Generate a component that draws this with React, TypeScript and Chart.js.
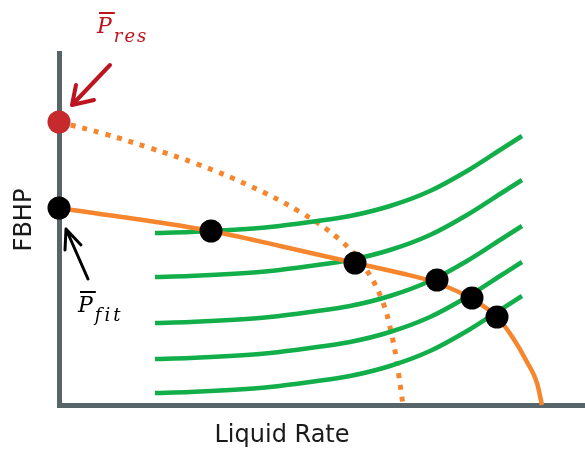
import React, { useEffect, useRef } from 'react';
import { Chart, registerables } from 'chart.js';

Chart.register(...registerables);

// Fitted IPR curve (solid orange)
const fitRate = [0, 152, 221, 296, 341, 378, 413, 438, 454, 468, 478, 483];
const fitFbhp = [197, 174, 159, 142, 132, 122, 106, 88, 67, 43, 22, 0];

// Reservoir-pressure IPR (dotted orange)
const resRate = [0, 46, 91, 138, 191, 241, 281, 306, 323, 333, 339, 344];
const resFbhp = [283, 271, 257, 241, 219, 193, 165, 137, 105, 69, 35, 0];

// Tubing performance curves (green)
const tpcRate = [96, 131, 171, 211, 251, 291, 331, 371, 408, 441, 463];
const tpc1Fbhp = [172, 173, 175, 178, 183, 189, 199, 214, 234, 255, 269];
const tpc2Fbhp = [128, 129, 131, 134, 139, 145, 155, 170, 190, 211, 225];
const tpc3Fbhp = [82, 83, 85, 88, 93, 99, 109, 124, 144, 165, 179];
const tpc4Fbhp = [46, 47, 49, 52, 57, 63, 73, 88, 108, 129, 143];
const tpc5Fbhp = [12, 13, 15, 18, 23, 29, 39, 54, 74, 95, 109];

// Operating points (black) and reservoir pressure point (red)
const opRate = [0, 152, 296, 378, 413, 438];
const opFbhp = [197, 174, 142, 125, 107, 88];
const pResRate = [0];
const pResFbhp = [283];

const xLabel = 'Liquid Rate';
const yLabel = 'FBHP';

const ORANGE = '#F5862E';
const GREEN = '#12AE4A';
const AXIS = '#57646A';
const RED = '#C62A2D';
const DARKRED = '#BE1420';

const pts = (xs: number[], ys: number[]) => xs.map((x, i) => ({ x, y: ys[i] }));

const greenSet = (ys: number[]) => ({
  type: 'line' as const,
  data: pts(tpcRate, ys),
  borderColor: GREEN,
  borderWidth: 4.5,
  pointRadius: 0,
  showLine: true,
  cubicInterpolationMode: 'monotone' as const,
  clip: false,
});

const annotations = {
  id: 'annotations',
  afterDatasetsDraw(chart: any) {
    const ctx = chart.ctx;
    const xs = chart.scales.x;
    const ys = chart.scales.y;
    const area = chart.chartArea;
    ctx.save();

    // Axis titles
    ctx.fillStyle = '#1a1a1a';
    ctx.font = '24px "DejaVu Sans"';
    ctx.textAlign = 'center';
    ctx.textBaseline = 'alphabetic';
    ctx.fillText(xLabel, area.left + 223, area.bottom + 37);
    ctx.save();
    ctx.translate(area.left - 28, 220);
    ctx.rotate(-Math.PI / 2);
    ctx.fillText(yLabel, 0, 0);
    ctx.restore();

    const arrow = (tx: number, ty: number, fx: number, fy: number, h1: number[], h2: number[], color: string, w: number) => {
      ctx.strokeStyle = color;
      ctx.lineWidth = w;
      ctx.lineCap = 'round';
      ctx.lineJoin = 'round';
      ctx.beginPath();
      ctx.moveTo(fx, fy);
      ctx.lineTo(tx, ty);
      ctx.moveTo(tx + h1[0], ty + h1[1]);
      ctx.lineTo(tx, ty);
      ctx.lineTo(tx + h2[0], ty + h2[1]);
      ctx.stroke();
    };

    const pbar = (x: number, y: number, sub: string, color: string, spacing: number) => {
      ctx.fillStyle = color;
      ctx.strokeStyle = color;
      ctx.textAlign = 'left';
      ctx.textBaseline = 'alphabetic';
      ctx.font = 'italic 22px "DejaVu Serif"';
      ctx.fillText('P', x, y);
      const pw = ctx.measureText('P').width;
      ctx.lineWidth = 2;
      ctx.lineCap = 'butt';
      ctx.beginPath();
      ctx.moveTo(x + 2, y - 20);
      ctx.lineTo(x + pw + 3, y - 20);
      ctx.stroke();
      ctx.font = 'italic 18px "DejaVu Serif"';
      (ctx as any).letterSpacing = spacing + 'px';
      ctx.fillText(sub, x + pw + 2, y + 9);
      (ctx as any).letterSpacing = '0px';
    };

    // Reservoir pressure annotation
    const rx = xs.getPixelForValue(pResRate[0]);
    const ry = ys.getPixelForValue(pResFbhp[0]);
    arrow(rx + 13, ry - 17, rx + 51, ry - 57, [4, -20], [22, -5], DARKRED, 4);
    pbar(rx + 38, ry - 89, 'res', DARKRED, 2);

    // Fitted pressure annotation
    const fx = xs.getPixelForValue(opRate[0]);
    const fy = ys.getPixelForValue(opFbhp[0]);
    arrow(fx + 7, fy + 21, fx + 29, fy + 71, [-1, 21], [15, 16], '#000000', 3);
    pbar(fx + 19, fy + 104, 'fit', '#000000', 3);

    ctx.restore();
  },
};

export default function App() {
  const ref = useRef<HTMLCanvasElement>(null);

  useEffect(() => {
    document.body.style.margin = '0';
    const canvas = ref.current;
    if (!canvas) return;
    const chart = new Chart(canvas, {
      type: 'scatter',
      data: {
        datasets: [
          {
            data: pts(pResRate, pResFbhp),
            backgroundColor: RED,
            borderWidth: 0,
            pointRadius: 11.5,
            showLine: false,
            clip: false,
          } as any,
          {
            data: pts(opRate, opFbhp),
            backgroundColor: '#000000',
            borderWidth: 0,
            pointRadius: 11.5,
            showLine: false,
            clip: false,
          } as any,
          {
            type: 'line',
            data: pts(fitRate, fitFbhp),
            borderColor: ORANGE,
            borderWidth: 4.5,
            pointRadius: 0,
            showLine: true,
            cubicInterpolationMode: 'monotone',
            clip: false,
          } as any,
          greenSet(tpc1Fbhp),
          greenSet(tpc2Fbhp),
          greenSet(tpc3Fbhp),
          greenSet(tpc4Fbhp),
          greenSet(tpc5Fbhp),
          {
            type: 'line',
            data: pts(resRate, resFbhp),
            borderColor: ORANGE,
            borderWidth: 5,
            borderDash: [5, 7],
            borderCapStyle: 'butt',
            pointRadius: 0,
            showLine: true,
            tension: 0.4,
            clip: false,
          } as any,
        ],
      },
      options: {
        animation: false,
        responsive: false,
        events: [],
        layout: { autoPadding: false, padding: { left: 59, top: 53, right: 0, bottom: 47 } },
        plugins: { legend: { display: false }, tooltip: { enabled: false } },
        scales: {
          x: {
            type: 'linear',
            min: 0,
            max: 526,
            ticks: { display: false },
            grid: { display: false, drawTicks: false },
            border: { display: true, color: AXIS, width: 5 },
          },
          y: {
            type: 'linear',
            min: 0,
            max: 352,
            ticks: { display: false },
            grid: { display: false, drawTicks: false },
            border: { display: true, color: AXIS, width: 5 },
          },
        },
      },
      plugins: [annotations],
    });
    return () => chart.destroy();
  }, []);

  return (
    <div style={{ position: 'fixed', left: 0, top: 0, width: 585, height: 452, background: '#fff' }}>
      <canvas ref={ref} width={585} height={452} style={{ display: 'block', width: 585, height: 452 }} />
    </div>
  );
}
